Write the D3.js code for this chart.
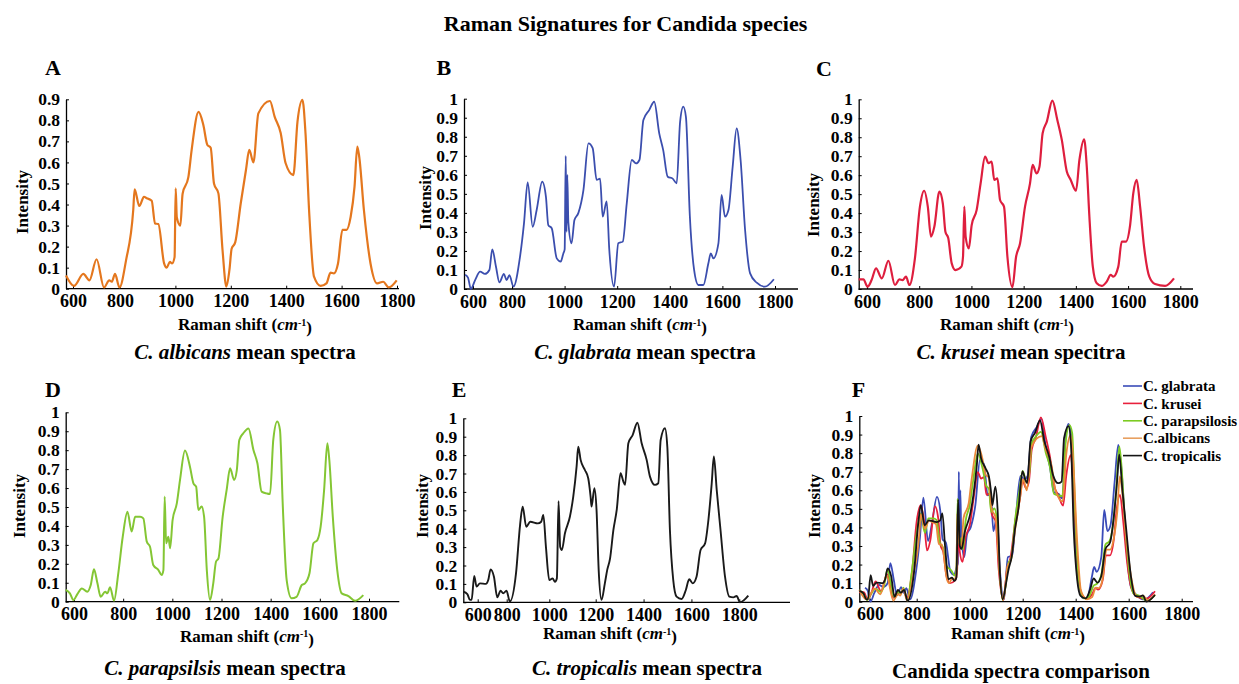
<!DOCTYPE html>
<html><head><meta charset="utf-8">
<script src="https://cdn.jsdelivr.net/npm/d3@7"></script>
<style>
body{margin:0;background:#fff;}
svg text{font-family:"Liberation Serif","Times New Roman",serif;font-weight:bold;fill:#000;}
</style></head><body>
<svg id="chart" width="1239" height="684"></svg>
<script>
// ---------- DATA ----------
const ticksX = [600, 800, 1000, 1200, 1400, 1600, 1800];
const ticksY09 = [0, 0.1, 0.2, 0.3, 0.4, 0.5, 0.6, 0.7, 0.8, 0.9];
const ticksY10 = [0, 0.1, 0.2, 0.3, 0.4, 0.5, 0.6, 0.7, 0.8, 0.9, 1];
const speciesNames = ["C. glabrata", "C. krusei", "C. parapsilosis", "C.albicans", "C. tropicalis"];

// [Raman shift (cm-1), intensity]
const albicans = [[600,0.063],[629,0.013],[663,0.07],[685,0.04],[711,0.14],[738,0.006],[757,0.04],[766,0.033],[778,0.07],[794,0.006],[818,0.136],[844,0.374],[849,0.472],[866,0.393],[883,0.437],[893,0.43],[911,0.418],[923,0.31],[935,0.307],[956,0.12],[965,0.10],[977,0.127],[985,0.12],[994,0.15],[998,0.477],[1002,0.34],[1015,0.30],[1023,0.45],[1044,0.53],[1056,0.66],[1081,0.84],[1098,0.78],[1113,0.683],[1125,0.67],[1137,0.5],[1153,0.453],[1168,0.184],[1182,0.01],[1193,0.089],[1201,0.19],[1214,0.22],[1234,0.405],[1253,0.564],[1265,0.66],[1280,0.6],[1298,0.833],[1340,0.892],[1357,0.818],[1379,0.74],[1397,0.596],[1425,0.54],[1440,0.794],[1458,0.897],[1469,0.74],[1482,0.374],[1500,0.057],[1524,0.013],[1545,0.025],[1560,0.076],[1572,0.073],[1587,0.12],[1603,0.28],[1618,0.28],[1633,0.342],[1647,0.485],[1657,0.675],[1664,0.627],[1681,0.374],[1705,0.12],[1729,0.025],[1751,0.033],[1771,0.006],[1800,0.04]];

const glabrata = [[623,0.075],[634,0.06],[645,0],[661,0.047],[680,0.091],[698,0.079],[715,0.1],[726,0.208],[740,0.117],[753,0.035],[770,0.079],[780,0.047],[791,0.073],[806,0.012],[831,0.17],[846,0.345],[860,0.56],[879,0.327],[894,0.415],[915,0.564],[929,0.485],[938,0.336],[951,0.319],[970,0.161],[985,0.144],[995,0.187],[1000,0.208],[1004,0.7],[1007,0.3],[1010,0.6],[1014,0.35],[1026,0.24],[1037,0.362],[1052,0.4],[1071,0.52],[1090,0.765],[1106,0.74],[1121,0.573],[1134,0.58],[1144,0.38],[1159,0.46],[1169,0.205],[1187,0.012],[1203,0.24],[1220,0.249],[1235,0.45],[1254,0.678],[1270,0.66],[1283,0.678],[1298,0.888],[1320,0.94],[1339,0.984],[1358,0.818],[1373,0.73],[1390,0.59],[1409,0.58],[1424,0.555],[1437,0.879],[1449,0.958],[1459,0.905],[1474,0.38],[1490,0.1],[1506,0.021],[1525,0.021],[1544,0.135],[1553,0.187],[1563,0.161],[1582,0.24],[1594,0.494],[1607,0.38],[1620,0.415],[1636,0.643],[1651,0.844],[1666,0.678],[1683,0.31],[1702,0.082],[1727,0.033],[1758,0.012],[1792,0.051]];

const krusei = [[600,0.051],[618,0.051],[634,0.012],[649,0.047],[666,0.109],[688,0.056],[713,0.149],[738,0.021],[755,0.051],[767,0.047],[780,0.065],[793,0.021],[814,0.162],[833,0.434],[849,0.518],[863,0.434],[875,0.276],[888,0.329],[907,0.513],[920,0.452],[930,0.302],[941,0.267],[954,0.135],[968,0.1],[991,0.118],[997,0.17],[1002,0.434],[1007,0.276],[1019,0.214],[1030,0.337],[1049,0.417],[1064,0.557],[1081,0.698],[1094,0.663],[1106,0.671],[1116,0.575],[1128,0.583],[1138,0.469],[1153,0.434],[1166,0.17],[1185,0.009],[1199,0.17],[1214,0.24],[1233,0.434],[1252,0.557],[1262,0.654],[1277,0.61],[1288,0.645],[1300,0.821],[1316,0.882],[1337,0.993],[1356,0.891],[1373,0.786],[1392,0.619],[1407,0.575],[1427,0.518],[1440,0.68],[1458,0.789],[1468,0.645],[1478,0.381],[1491,0.118],[1506,0.03],[1525,0.016],[1544,0.039],[1559,0.074],[1569,0.065],[1588,0.118],[1601,0.25],[1617,0.25],[1633,0.337],[1645,0.504],[1658,0.575],[1671,0.434],[1686,0.223],[1706,0.065],[1728,0.026],[1766,0.016],[1800,0.056]];

const parapsilosis = [[600,0.062],[617,0.044],[631,0.009],[647,0.04],[665,0.07],[687,0.053],[701,0.088],[714,0.171],[728,0.097],[741,0.026],[759,0.053],[768,0.044],[779,0.076],[795,0.005],[812,0.15],[830,0.343],[849,0.475],[866,0.37],[880,0.449],[900,0.449],[913,0.44],[927,0.317],[940,0.29],[953,0.194],[974,0.167],[987,0.141],[994,0.167],[999,0.555],[1005,0.308],[1014,0.343],[1021,0.282],[1031,0.431],[1048,0.519],[1061,0.643],[1081,0.798],[1101,0.713],[1115,0.625],[1126,0.607],[1135,0.484],[1148,0.502],[1158,0.449],[1169,0.167],[1182,0.009],[1195,0.097],[1206,0.211],[1216,0.229],[1233,0.449],[1249,0.59],[1263,0.704],[1279,0.643],[1290,0.695],[1300,0.854],[1316,0.889],[1337,0.915],[1357,0.801],[1373,0.731],[1390,0.581],[1410,0.572],[1424,0.569],[1437,0.854],[1453,0.951],[1464,0.907],[1475,0.519],[1491,0.114],[1511,0.018],[1531,0.026],[1552,0.088],[1565,0.097],[1583,0.15],[1599,0.308],[1615,0.326],[1628,0.396],[1642,0.59],[1655,0.836],[1663,0.748],[1677,0.449],[1695,0.167],[1713,0.044],[1740,0.03],[1767,0.005],[1800,0.035]];

const tropicalis = [[600,0.058],[617,0.045],[628,0.013],[635,0.013],[646,0.143],[656,0.085],[670,0.103],[695,0.1],[705,0.121],[715,0.179],[729,0.139],[743,0.027],[757,0.063],[768,0.049],[782,0.063],[796,0.004],[822,0.158],[839,0.42],[850,0.52],[865,0.411],[882,0.438],[914,0.429],[928,0.438],[937,0.475],[948,0.3],[962,0.121],[976,0.13],[986,0.112],[994,0.13],[1001,0.55],[1008,0.3],[1015,0.284],[1028,0.375],[1049,0.466],[1063,0.574],[1077,0.737],[1084,0.846],[1094,0.774],[1112,0.719],[1126,0.674],[1136,0.574],[1140,0.52],[1152,0.62],[1161,0.502],[1170,0.176],[1182,0.013],[1196,0.103],[1206,0.176],[1218,0.239],[1232,0.393],[1246,0.502],[1262,0.701],[1274,0.656],[1281,0.638],[1295,0.864],[1313,0.909],[1333,0.976],[1351,0.864],[1372,0.774],[1386,0.683],[1407,0.638],[1421,0.647],[1431,0.882],[1449,0.946],[1459,0.846],[1470,0.393],[1484,0.121],[1498,0.031],[1519,0.018],[1537,0.067],[1551,0.125],[1566,0.103],[1582,0.139],[1599,0.284],[1618,0.32],[1632,0.447],[1646,0.647],[1655,0.792],[1667,0.611],[1683,0.393],[1702,0.139],[1720,0.031],[1737,0.027],[1751,0.034],[1765,0],[1800,0.036]];

// ---------- LAYOUT / STYLE ----------
const COL = {glabrata:"#3B4EAE", krusei:"#DE1E3E", parapsilosis:"#84C634", albicans:"#E4771E", tropicalis:"#1A1A1A"};
const FCOL = {glabrata:"#3A4BB8", krusei:"#E8203C", parapsilosis:"#7CCB22", albicans:"#EA8A3A", tropicalis:"#151515"};

const panels = [
 {letter:"A", series:[[albicans,COL.albicans]], lw:2.2, yMax:0.9, yTicks:ticksY09,
  axisX:66, axisEndX:399, y0:288.7, yTop:99.3, dataX:[66,396.7], tickDom:[600,800,1800], tickRng:[73,120,397],
  letterPos:[45,75], yTitle:[28,202], xTitle:[245,330], sub:[245,359], subParts:[["C. albicans",1],[" mean spectra",0]]},
 {letter:"B", series:[[glabrata,COL.glabrata]], lw:1.8, yMax:1, yTicks:ticksY10,
  axisX:464, axisEndX:798, y0:289, yTop:98.7, dataX:[459,776], tickDom:[600,800,1800], tickRng:[473,512,775],
  letterPos:[436.5,75], yTitle:[431,198], xTitle:[640,330], sub:[645,359], subParts:[["C. glabrata",1],[" mean spectra",0]]},
 {letter:"C", series:[[krusei,COL.krusei]], lw:2.2, yMax:1, yTicks:ticksY10,
  axisX:858.7, axisEndX:1193, y0:289, yTop:99.3, dataX:[858.7,1174], tickDom:[600,1800], tickRng:[867,1180.3],
  letterPos:[816,76], yTitle:[819,205], xTitle:[1007,330], sub:[1021,359], subParts:[["C. krusei",1],[" mean specitra",0]]},
 {letter:"D", series:[[parapsilosis,COL.parapsilosis]], lw:2, yMax:1, yTicks:ticksY10,
  axisX:65.7, axisEndX:399.3, y0:601.7, yTop:412.3, dataX:[65.7,363.3], tickDom:[600,1800], tickRng:[74,369],
  letterPos:[45,396.7], yTitle:[25,506], xTitle:[247,641.7], sub:[225,675], subParts:[["C. parapsilsis",1],[" mean spectra",0]]},
 {letter:"E", series:[[tropicalis,COL.tropicalis]], lw:1.9, yMax:1, yTicks:ticksY10,
  axisX:463.3, axisEndX:790, y0:602.3, yTop:418.3, dataX:[463.3,748.3], tickDom:[600,800,1000,1200,1800], tickRng:[477.7,506.7,549.3,595.7,739.3],
  letterPos:[451.7,397], yTitle:[428,506], xTitle:[610,639], sub:[647,675], subParts:[["C. tropicalis",1],[" mean spectra",0]]},
 {letter:"F", series:[[glabrata,FCOL.glabrata],[krusei,FCOL.krusei],[parapsilosis,FCOL.parapsilosis],[albicans,FCOL.albicans],[tropicalis,FCOL.tropicalis]], lw:1.8, yMax:1, yTicks:ticksY10,
  axisX:859.3, axisEndX:1193, y0:601.7, yTop:416, dataX:[859.3,1155], tickDom:[600,800,1800], tickRng:[870,916.7,1181.7],
  letterPos:[851.7,397.3], yTitle:[820,506], xTitle:[1018,639], sub:[1021,678], subParts:[["Candida spectra comparison",0]]}
];

const svg = d3.select("#chart");

svg.append("text").attr("x", 625.5).attr("y", 31).attr("text-anchor","middle")
  .style("font-size","22px").text("Raman Signatures for Candida species");

panels.forEach(p => {
  const g = svg.append("g");
  const xData = d3.scaleLinear().domain([600,1800]).range(p.dataX);
  const xTick = d3.scaleLinear().domain(p.tickDom).range(p.tickRng);
  const y = d3.scaleLinear().domain([0, p.yMax]).range([p.y0, p.yTop]);

  // x axis
  const gx = g.append("g").attr("transform", `translate(0,${p.y0})`)
    .call(d3.axisBottom(xTick).tickValues(ticksX).tickSize(-3).tickPadding(6).tickFormat(d3.format("d")));
  gx.select(".domain").remove();
  gx.append("line").attr("x1", p.axisX).attr("x2", p.axisEndX).attr("stroke","#000").attr("stroke-width",1.3);
  gx.selectAll(".tick line").attr("stroke","#000");
  gx.selectAll("text").style("font-size","18px").attr("fill","#000");

  // y axis
  const gy = g.append("g").attr("transform", `translate(${p.axisX},0)`)
    .call(d3.axisLeft(y).tickValues(p.yTicks).tickSizeInner(-3).tickSizeOuter(0).tickPadding(6).tickFormat(d3.format("~g")));
  gy.select(".domain").attr("stroke-width",1.3);
  gy.selectAll("text").style("font-size","17.5px").attr("fill","#000");

  // lines
  const line = d3.line().x(d => xData(d[0])).y(d => y(d[1])).curve(d3.curveMonotoneX);
  p.series.forEach(([data, color]) => {
    g.append("path").datum(data).attr("d", line).attr("fill","none")
      .attr("stroke", color).attr("stroke-width", p.lw).attr("stroke-linejoin","round");
  });

  // labels
  g.append("text").attr("x", p.letterPos[0]).attr("y", p.letterPos[1]).style("font-size","22px").text(p.letter);
  g.append("text").attr("transform", `translate(${p.yTitle[0]},${p.yTitle[1]}) rotate(-90)`)
    .attr("text-anchor","middle").style("font-size","17px").text("Intensity");
  const xt = g.append("text").attr("x", p.xTitle[0]).attr("y", p.xTitle[1]).attr("text-anchor","middle").style("font-size","17px");
  xt.append("tspan").text("Raman shift (");
  xt.append("tspan").style("font-style","italic").text("cm");
  xt.append("tspan").attr("dy","-0.45em").style("font-size","10px").text("-1");
  xt.append("tspan").attr("dy","0.45em").text(")");
  const st = g.append("text").attr("x", p.sub[0]).attr("y", p.sub[1]).attr("text-anchor","middle").style("font-size","21px");
  p.subParts.forEach(([t, it]) => st.append("tspan").style("font-style", it ? "italic" : "normal").text(t));
});

// legend (panel F)
const legendColors = [FCOL.glabrata, FCOL.krusei, FCOL.parapsilosis, "#E8A060", FCOL.tropicalis];
const lg = svg.append("g").attr("transform","translate(1123,386)");
speciesNames.forEach((n, i) => {
  const row = lg.append("g").attr("transform", `translate(0,${i*17.4})`);
  row.append("line").attr("x1",0).attr("x2",19).attr("stroke", legendColors[i]).attr("stroke-width",1.6);
  row.append("text").attr("x",20).attr("dy","0.35em").style("font-size","15px").text(n);
});
</script>
</body></html>
